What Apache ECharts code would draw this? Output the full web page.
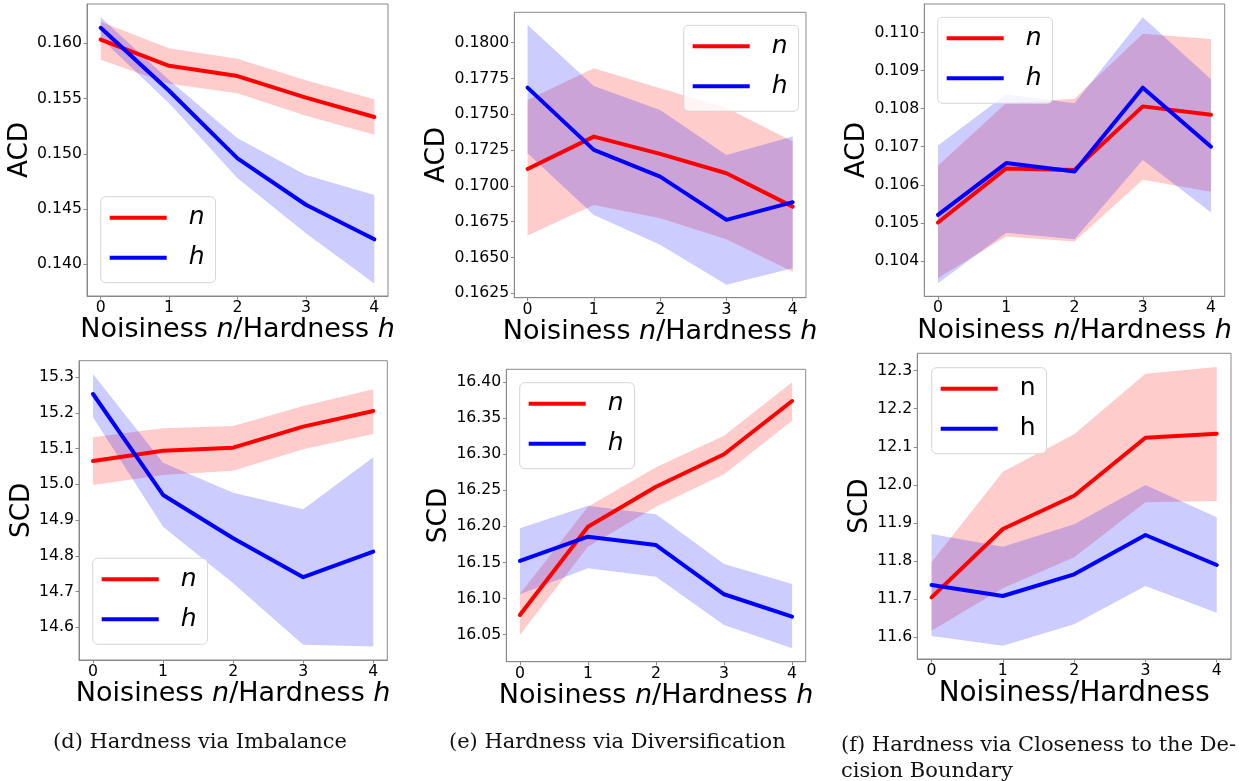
<!DOCTYPE html>
<html>
<head>
<meta charset="utf-8">
<script src="https://cdn.jsdelivr.net/npm/echarts@6/dist/echarts.min.js"></script>
<style>
html,body{margin:0;padding:0;background:#fff;}
#c{width:1245px;height:781px;}
</style>
</head>
<body>
<div id="c"></div>
<script>
// ---------- data ----------
const xs = [0, 1, 2, 3, 4];
const xTicks = [0, 1, 2, 3, 4];

// (d) Imbalance - ACD
const acdImbN   = [0.16033, 0.15797, 0.15704, 0.15508, 0.15333];
const acdImbNLo = [0.15852, 0.15634, 0.15548, 0.15345, 0.15173];
const acdImbNHi = [0.16196, 0.15955, 0.15861, 0.15665, 0.15493];
const acdImbH   = [0.16141, 0.15571, 0.14959, 0.14539, 0.14226];
const acdImbHLo = [0.16045, 0.15457, 0.14778, 0.14281, 0.13826];
const acdImbHHi = [0.16235, 0.15667, 0.15140, 0.14808, 0.14627];
const acdImbTicks = [0.140, 0.145, 0.150, 0.155, 0.160];

// (e) Diversification - ACD
const acdDivN   = [0.17118, 0.17344, 0.17223, 0.17088, 0.16855];
const acdDivNLo = [0.16653, 0.16867, 0.16774, 0.16627, 0.16401];
const acdDivNHi = [0.17600, 0.17821, 0.17682, 0.17546, 0.17309];
const acdDivH   = [0.17686, 0.17251, 0.17065, 0.16762, 0.16886];
const acdDivHLo = [0.17228, 0.16797, 0.16588, 0.16309, 0.16425];
const acdDivHHi = [0.18124, 0.17698, 0.17530, 0.17216, 0.17344];
const acdDivTicks = [0.1625, 0.1650, 0.1675, 0.1700, 0.1725, 0.1750, 0.1775, 0.1800];

// (f) Closeness - ACD
const acdCloN   = [0.10501, 0.10643, 0.10639, 0.10806, 0.10784];
const acdCloNLo = [0.10355, 0.10464, 0.10451, 0.10613, 0.10582];
const acdCloNHi = [0.10650, 0.10815, 0.10826, 0.10997, 0.10983];
const acdCloH   = [0.10521, 0.10657, 0.10635, 0.10855, 0.10700];
const acdCloHLo = [0.10341, 0.10474, 0.10457, 0.10665, 0.10527];
const acdCloHHi = [0.10703, 0.10838, 0.10814, 0.11040, 0.10877];
const acdCloTicks = [0.104, 0.105, 0.106, 0.107, 0.108, 0.109, 0.110];

// (d) Imbalance - SCD
const scdImbN   = [15.0656, 15.0945, 15.1029, 15.1617, 15.2056];
const scdImbNLo = [14.9984, 15.0264, 15.0385, 15.0984, 15.1412];
const scdImbNHi = [15.1320, 15.1570, 15.1636, 15.2196, 15.2664];
const scdImbH   = [15.2532, 14.9704, 14.8491, 14.7400, 14.8116];
const scdImbHLo = [15.1880, 14.8816, 14.7231, 14.5504, 14.5456];
const scdImbHHi = [15.3092, 15.0608, 14.9768, 14.9303, 15.0760];
const scdImbTicks = [14.6, 14.7, 14.8, 14.9, 15.0, 15.1, 15.2, 15.3];

// (e) Diversification - SCD
const scdDivN   = [16.0773, 16.1996, 16.2550, 16.2999, 16.3737];
const scdDivNLo = [16.0496, 16.1719, 16.2273, 16.2722, 16.3464];
const scdDivNHi = [16.1064, 16.2273, 16.2819, 16.3256, 16.3996];
const scdDivH   = [16.1521, 16.1857, 16.1742, 16.1060, 16.0750];
const scdDivHLo = [16.1060, 16.1420, 16.1304, 16.0634, 16.0311];
const scdDivHHi = [16.1974, 16.2287, 16.2168, 16.1479, 16.1202];
const scdDivTicks = [16.05, 16.10, 16.15, 16.20, 16.25, 16.30, 16.35, 16.40];

// (f) Closeness - SCD
const scdCloN   = [11.7043, 11.8838, 11.9714, 12.1239, 12.1344];
const scdCloNLo = [11.6165, 11.7280, 11.8095, 11.9540, 11.9575];
const scdCloNHi = [11.7963, 12.0345, 12.1328, 12.2921, 12.3097];
const scdCloH   = [11.7367, 11.7077, 11.7648, 11.8681, 11.7892];
const scdCloHLo = [11.6026, 11.5771, 11.6333, 11.7340, 11.6638];
const scdCloHHi = [11.8707, 11.8373, 11.8962, 11.9995, 11.9146];
const scdCloTicks = [11.6, 11.7, 11.8, 11.9, 12.0, 12.1, 12.2, 12.3];

const xRange = [-0.2, 4.2];
const yRanges = [
  [0.13713, 0.16356], [0.16219, 0.18212], [0.10307, 0.11075],
  [14.508, 15.3465], [16.0126, 16.4176], [11.5422, 12.3457]
];

const captions = [
  '(d) Hardness via Imbalance',
  '(e) Hardness via Diversification',
  '(f) Hardness via Closeness to the De-\ncision Boundary'
];

// ---------- layout ----------
const panels = [
  {n: acdImbN, nLo: acdImbNLo, nHi: acdImbNHi, h: acdImbH, hLo: acdImbHLo, hHi: acdImbHHi,
   ticks: acdImbTicks, dec: 3, yName: 'ACD', italic: true, xFont: 27,
   grid: {left: 87, top: 4, width: 301, height: 292}, yGap: 53.6, xGap: 20.6,
   legend: {left: 100.7, top: 196.7}},
  {n: acdDivN, nLo: acdDivNLo, nHi: acdDivNHi, h: acdDivH, hLo: acdDivHLo, hHi: acdDivHHi,
   ticks: acdDivTicks, dec: 4, yName: 'ACD', italic: true, xFont: 27,
   grid: {left: 514.3, top: 12.3, width: 291.7, height: 285.4}, yGap: 62, xGap: 20.6,
   legend: {left: 683.7, top: 25.3}},
  {n: acdCloN, nLo: acdCloNLo, nHi: acdCloNHi, h: acdCloH, hLo: acdCloHLo, hHi: acdCloHHi,
   ticks: acdCloTicks, dec: 3, yName: 'ACD', italic: true, xFont: 27,
   grid: {left: 924.3, top: 4, width: 300.4, height: 292.3}, yGap: 54.2, xGap: 21,
   legend: {left: 937.7, top: 17.3}},
  {n: scdImbN, nLo: scdImbNLo, nHi: scdImbNHi, h: scdImbH, hLo: scdImbHLo, hHi: scdImbHHi,
   ticks: scdImbTicks, dec: 1, yName: 'SCD', italic: true, xFont: 27,
   grid: {left: 79, top: 360.7, width: 308.3, height: 299.3}, yGap: 43.2, xGap: 19.9,
   legend: {left: 92.7, top: 558.3}},
  {n: scdDivN, nLo: scdDivNLo, nHi: scdDivNHi, h: scdDivH, hLo: scdDivHLo, hHi: scdDivHHi,
   ticks: scdDivTicks, dec: 2, yName: 'SCD', italic: true, xFont: 27,
   grid: {left: 506.3, top: 369.3, width: 299.4, height: 292.4}, yGap: 52.2, xGap: 19.9,
   legend: {left: 519.7, top: 382.7}},
  {n: scdCloN, nLo: scdCloNLo, nHi: scdCloNHi, h: scdCloH, hLo: scdCloHLo, hHi: scdCloHHi,
   ticks: scdCloTicks, dec: 1, yName: 'SCD', italic: false, xFont: 27.8,
   grid: {left: 917.3, top: 353.3, width: 313.7, height: 305.7}, yGap: 44.2, xGap: 20.7,
   legend: {left: 931.7, top: 367.7}}
];

const FRAME = '#8a8a8a';
const SANS = 'DejaVu Sans';
const RED = '#ff0000', BLUE = '#0000ff';
const RED_FILL = 'rgba(255,0,0,0.2)', BLUE_FILL = 'rgba(0,0,255,0.2)';

const grids = [], xAxes = [], yAxes = [], series = [], legends = [];

function bandSeries(idx, lo, hi, fill) {
  return {
    type: 'custom', name: 'band' + idx, coordinateSystem: 'cartesian2d',
    xAxisIndex: idx, yAxisIndex: idx, silent: true, z: 1,
    data: xs.map((x, i) => [x, lo[i], hi[i]]),
    encode: {x: 0, y: [1, 2]},
    renderItem: function (params, api) {
      if (params.dataIndex !== 0) return null;
      const pts = [];
      for (let i = 0; i < xs.length; i++) pts.push(api.coord([xs[i], hi[i]]));
      for (let i = xs.length - 1; i >= 0; i--) pts.push(api.coord([xs[i], lo[i]]));
      return {type: 'polygon', shape: {points: pts}, style: {fill: fill, stroke: null}};
    }
  };
}

function lineSeries(idx, name, vals, color) {
  return {
    type: 'line', name: name, xAxisIndex: idx, yAxisIndex: idx,
    data: xs.map((x, i) => [x, vals[i]]),
    showSymbol: false, symbol: 'none', z: 3,
    lineStyle: {color: color, width: 4, cap: 'round', join: 'round'},
    itemStyle: {color: color},
    emphasis: {disabled: true}
  };
}

panels.forEach((p, idx) => {
  grids.push(Object.assign({show: true, borderColor: FRAME, borderWidth: 1, backgroundColor: 'transparent'}, p.grid));
  const fs = p.xFont;
  const xNameRich = p.italic
    ? '{r|Noisiness }{i|n}{r|/Hardness }{i|h}'
    : '{r|Noisiness/Hardness}';
  xAxes.push({
    type: 'value', gridIndex: idx, min: xRange[0], max: xRange[1],
    name: xNameRich, nameLocation: 'middle', nameGap: p.xGap,
    nameTextStyle: {
      fontFamily: SANS, fontSize: fs, color: '#000', lineHeight: fs,
      rich: {
        r: {fontFamily: SANS, fontSize: fs, color: '#000', lineHeight: fs},
        i: {fontFamily: SANS, fontSize: fs, color: '#000', fontStyle: 'italic', lineHeight: fs}
      }
    },
    axisLine: {show: true, onZero: false, lineStyle: {color: FRAME, width: 1}},
    axisTick: {show: true, inside: false, length: 3.5, customValues: xTicks, lineStyle: {color: FRAME}},
    axisLabel: {show: true, customValues: xTicks, margin: 4, fontFamily: SANS, fontSize: 15.7, color: '#000',
                formatter: v => String(Math.round(v))},
    splitLine: {show: false}
  });
  yAxes.push({
    type: 'value', gridIndex: idx, min: yRanges[idx][0], max: yRanges[idx][1],
    name: p.yName, nameLocation: 'middle', nameGap: p.yGap, nameRotate: 90,
    nameTextStyle: {fontFamily: SANS, fontSize: 26.3, color: '#000', lineHeight: 26.3},
    axisLine: {show: true, onZero: false, lineStyle: {color: FRAME, width: 1}},
    axisTick: {show: true, inside: false, length: 3.5, customValues: p.ticks, lineStyle: {color: FRAME}},
    axisLabel: {show: true, customValues: p.ticks, margin: 5, fontFamily: SANS, fontSize: 15.7, color: '#000',
                formatter: v => v.toFixed(p.dec)},
    splitLine: {show: false}
  });
  series.push(bandSeries(idx, p.nLo, p.nHi, RED_FILL));
  series.push(bandSeries(idx, p.hLo, p.hHi, BLUE_FILL));
  series.push(lineSeries(idx, 'n', p.n, RED));
  series.push(lineSeries(idx, 'h', p.h, BLUE));
  legends.push({
    left: p.legend.left, top: p.legend.top, orient: 'vertical',
    data: ['n', 'h'], icon: 'rect', itemWidth: 57, itemHeight: 4, itemGap: 10,
    selectedMode: false,
    padding: [6, 11, 10, 9],
    backgroundColor: 'rgba(255,255,255,0.8)', borderColor: '#d6d6d6', borderWidth: 1, borderRadius: 5,
    textStyle: {fontFamily: SANS, fontSize: 25, color: '#000', lineHeight: 30,
                fontStyle: p.italic ? 'italic' : 'normal', padding: [0, 0, 0, 17]}
  });
});

const titles = [
  {text: captions[0], left: 53, top: 730},
  {text: captions[1], left: 449, top: 730},
  {text: captions[2], left: 841, top: 733}
].map(t => Object.assign(t, {
  padding: 0,
  textStyle: {fontFamily: 'DejaVu Serif', fontSize: 21, fontWeight: 'normal', color: '#111', lineHeight: 25.4}
}));

const chart = echarts.init(document.getElementById('c'), null, {renderer: 'canvas'});
chart.setOption({
  animation: false,
  backgroundColor: '#fff',
  title: titles,
  legend: legends,
  grid: grids,
  xAxis: xAxes,
  yAxis: yAxes,
  series: series
});
</script>
</body>
</html>
